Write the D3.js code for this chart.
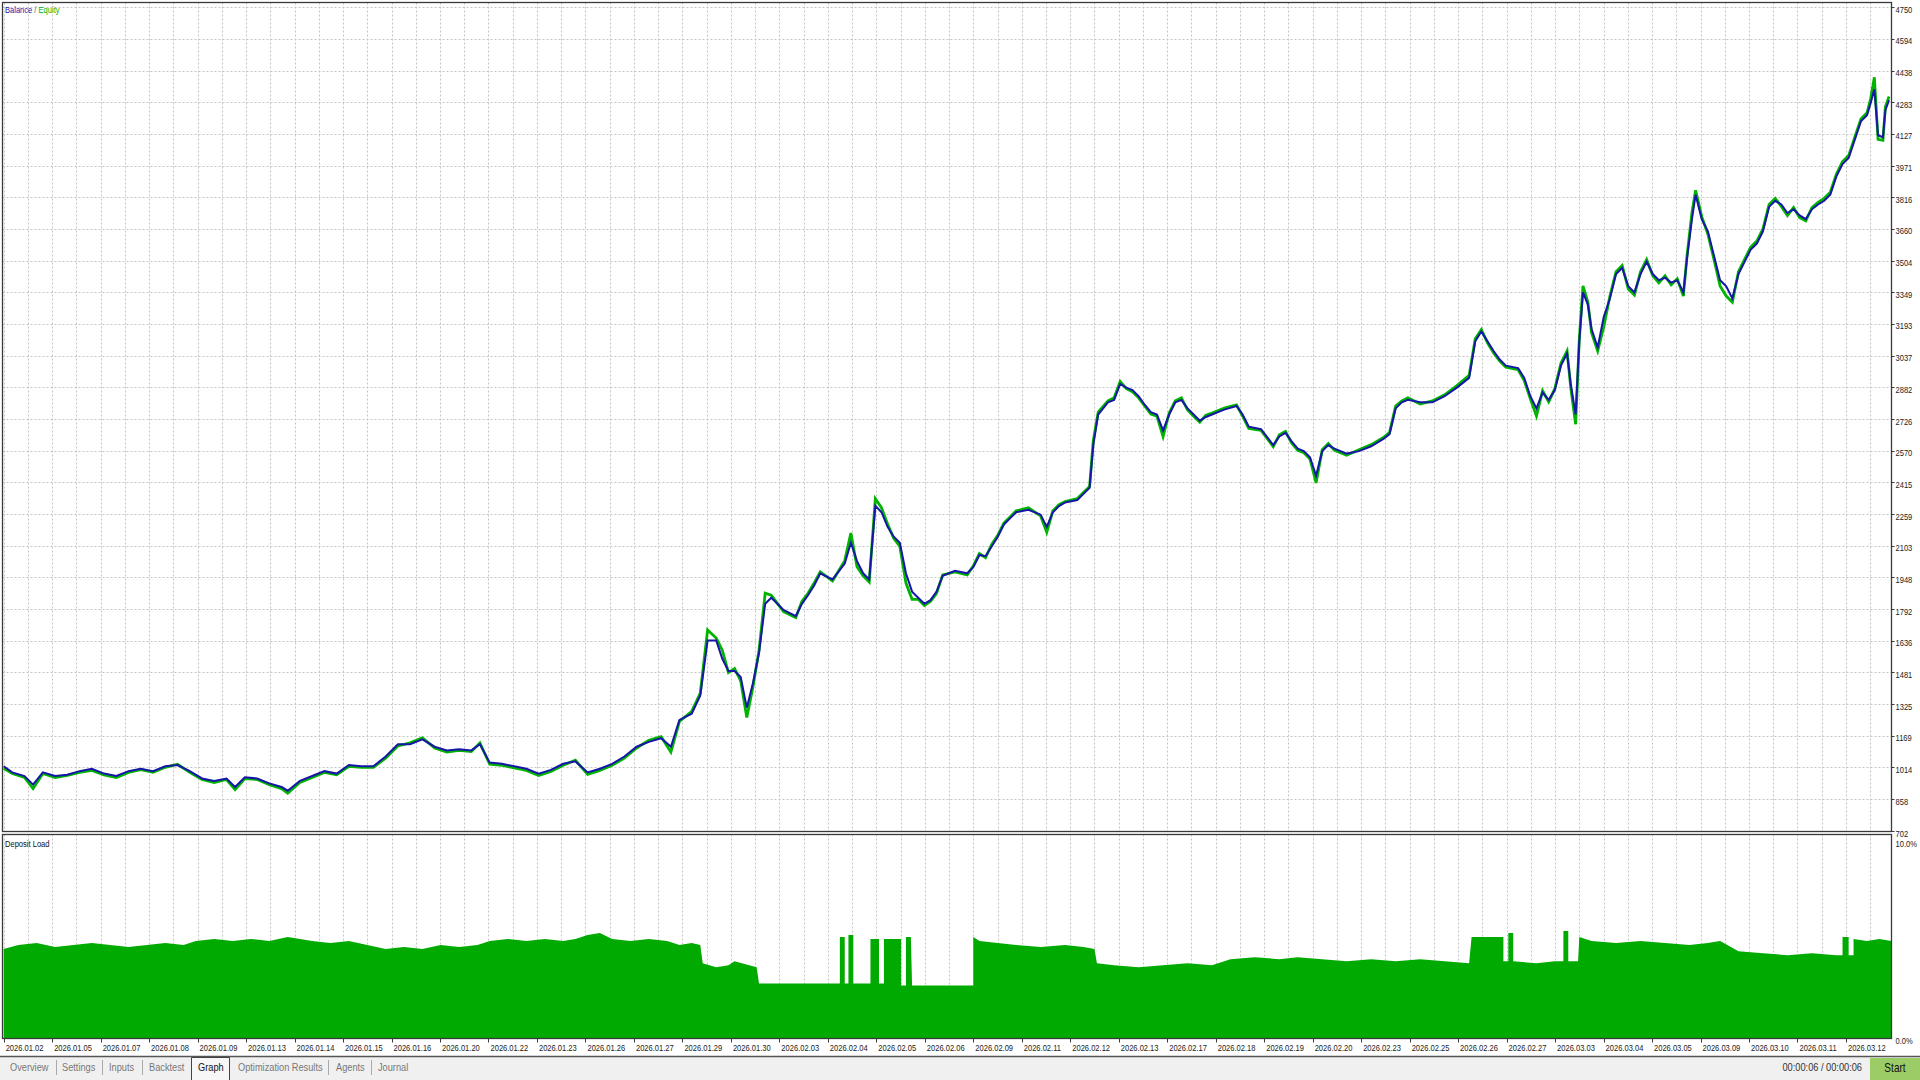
<!DOCTYPE html>
<html><head><meta charset="utf-8">
<script src="https://cdn.jsdelivr.net/npm/d3@7"></script>
<style>html,body{margin:0;padding:0;background:#fff;overflow:hidden}</style>
</head><body><svg id="c" width="1920" height="1080"></svg>
<script>
// ---- data ----
const yTickLabels = ["702","858","1014","1169","1325","1481","1636","1792","1948","2103","2259","2415","2570","2726","2882","3037","3193","3349","3504","3660","3816","3971","4127","4283","4438","4594","4750"];
const dateLabels = ["2026.01.02","2026.01.05","2026.01.07","2026.01.08","2026.01.09","2026.01.13","2026.01.14","2026.01.15","2026.01.16","2026.01.20","2026.01.22","2026.01.23","2026.01.26","2026.01.27","2026.01.29","2026.01.30","2026.02.03","2026.02.04","2026.02.05","2026.02.06","2026.02.09","2026.02.11","2026.02.12","2026.02.13","2026.02.17","2026.02.18","2026.02.19","2026.02.20","2026.02.23","2026.02.25","2026.02.26","2026.02.27","2026.03.03","2026.03.04","2026.03.05","2026.03.09","2026.03.10","2026.03.11","2026.03.12"];
const depositTicks = ["10.0%","0.0%"];
const tabs = ["Overview","Settings","Inputs","Backtest","Graph","Optimization Results","Agents","Journal"];
// [deal index, value]
const balance = [[3,1020],[10,990],[20,972],[27,930],[35,990],[45,972],[55,978],[65,996],[75,1008],[85,984],[95,972],[105,996],[115,1008],[125,996],[135,1020],[145,1026],[155,996],[165,960],[175,948],[185,960],[192,918],[200,966],[210,960],[220,936],[230,918],[235,900],[245,948],[255,972],[265,996],[275,984],[285,1026],[295,1020],[305,1020],[315,1068],[325,1128],[335,1128],[345,1152],[355,1116],[365,1098],[375,1104],[385,1098],[392,1128],[400,1038],[410,1032],[420,1020],[430,1008],[440,984],[450,1002],[460,1032],[470,1044],[480,990],[490,1008],[500,1032],[510,1068],[520,1116],[530,1140],[540,1158],[548,1116],[555,1248],[565,1278],[572,1368],[578,1638],[585,1638],[590,1548],[595,1488],[600,1488],[605,1458],[610,1308],[615,1428],[620,1578],[625,1818],[630,1848],[640,1788],[650,1758],[655,1818],[660,1860],[665,1908],[670,1968],[680,1938],[690,2016],[695,2118],[700,2028],[705,1968],[710,1938],[715,2300],[720,2268],[725,2196],[730,2148],[735,2118],[740,1968],[745,1878],[750,1848],[755,1818],[760,1836],[765,1878],[770,1956],[780,1980],[790,1968],[795,1998],[800,2058],[805,2052],[810,2100],[815,2148],[820,2208],[825,2238],[830,2268],[840,2280],[850,2256],[855,2196],[860,2268],[865,2298],[870,2316],[880,2328],[885,2358],[890,2388],[893,2598],[897,2748],[905,2808],[910,2820],[915,2898],[920,2880],[925,2868],[930,2838],[935,2796],[940,2760],[945,2748],[950,2670],[955,2748],[960,2808],[965,2820],[970,2778],[975,2748],[980,2718],[985,2736],[990,2748],[1000,2772],[1010,2790],[1015,2748],[1020,2688],[1030,2676],[1040,2598],[1045,2640],[1050,2658],[1055,2616],[1060,2580],[1065,2568],[1070,2538],[1075,2448],[1080,2568],[1085,2598],[1090,2580],[1100,2556],[1110,2568],[1120,2592],[1130,2628],[1135,2652],[1140,2778],[1145,2808],[1150,2820],[1160,2808],[1170,2808],[1180,2838],[1190,2880],[1200,2928],[1205,3108],[1210,3156],[1215,3108],[1220,3060],[1225,3018],[1230,2988],[1240,2976],[1245,2928],[1250,2838],[1255,2778],[1260,2856],[1265,2820],[1270,2868],[1275,2988],[1280,3048],[1283,2898],[1287,2748],[1290,3108],[1293,3348],[1297,3288],[1300,3168],[1305,3078],[1310,3228],[1315,3318],[1320,3438],[1325,3468],[1330,3378],[1335,3348],[1340,3438],[1345,3498],[1350,3438],[1355,3408],[1360,3420],[1365,3396],[1370,3408],[1375,3348],[1378,3516],[1382,3708],[1385,3828],[1390,3708],[1395,3648],[1400,3528],[1405,3408],[1410,3378],[1415,3318],[1420,3438],[1425,3498],[1430,3558],[1435,3588],[1440,3648],[1445,3768],[1450,3798],[1455,3780],[1460,3738],[1465,3756],[1470,3726],[1475,3708],[1480,3756],[1485,3780],[1490,3798],[1495,3828],[1500,3918],[1505,3978],[1510,4008],[1515,4098],[1520,4188],[1525,4218],[1528,4278],[1531,4346],[1534,4120],[1538,4110],[1540,4243],[1543,4292]];
const equity = [[3,1010],[10,985],[20,965],[27,910],[35,985],[45,965],[55,975],[65,990],[75,1000],[85,978],[95,965],[105,990],[115,1004],[125,990],[135,1015],[145,1030],[155,990],[165,955],[175,940],[185,955],[192,905],[200,960],[210,955],[220,930],[230,910],[235,888],[245,940],[255,965],[265,990],[275,978],[285,1020],[295,1015],[305,1015],[315,1060],[325,1120],[335,1135],[345,1160],[355,1110],[365,1090],[375,1098],[385,1092],[392,1135],[400,1030],[410,1025],[420,1012],[430,1000],[440,975],[450,995],[460,1025],[470,1050],[480,980],[490,1000],[500,1025],[510,1060],[520,1110],[530,1148],[540,1165],[548,1090],[555,1240],[565,1290],[572,1380],[578,1690],[585,1650],[590,1590],[595,1480],[600,1500],[605,1440],[610,1260],[615,1410],[620,1590],[625,1870],[630,1860],[640,1780],[650,1750],[655,1830],[660,1870],[665,1920],[670,1975],[680,1930],[690,2030],[695,2166],[700,2000],[705,1955],[710,1925],[715,2335],[720,2290],[725,2210],[730,2140],[735,2100],[740,1920],[745,1840],[750,1840],[755,1810],[760,1830],[765,1870],[770,1960],[780,1975],[790,1960],[795,2005],[800,2065],[805,2045],[810,2110],[815,2155],[820,2215],[825,2245],[830,2275],[840,2290],[850,2250],[855,2170],[860,2275],[865,2305],[870,2320],[880,2335],[885,2365],[890,2395],[893,2620],[897,2760],[905,2815],[910,2830],[915,2910],[920,2875],[925,2860],[930,2830],[935,2790],[940,2750],[945,2740],[950,2640],[955,2755],[960,2815],[965,2830],[970,2770],[975,2740],[980,2710],[985,2745],[990,2755],[1000,2780],[1010,2795],[1015,2740],[1020,2680],[1030,2670],[1040,2590],[1045,2648],[1050,2665],[1055,2608],[1060,2572],[1065,2560],[1070,2530],[1075,2412],[1080,2575],[1085,2605],[1090,2572],[1100,2548],[1110,2575],[1120,2600],[1130,2635],[1135,2660],[1140,2790],[1145,2815],[1150,2830],[1160,2800],[1170,2815],[1180,2845],[1190,2890],[1200,2940],[1205,3120],[1210,3165],[1215,3100],[1220,3050],[1225,3010],[1230,2980],[1240,2968],[1245,2915],[1250,2825],[1255,2740],[1260,2865],[1265,2810],[1270,2875],[1275,3000],[1280,3060],[1283,2880],[1287,2700],[1290,3120],[1293,3380],[1297,3300],[1300,3150],[1305,3060],[1310,3180],[1315,3330],[1320,3450],[1325,3480],[1330,3365],[1335,3335],[1340,3450],[1345,3510],[1350,3430],[1355,3395],[1360,3430],[1365,3385],[1370,3415],[1375,3330],[1378,3530],[1382,3740],[1385,3850],[1390,3720],[1395,3635],[1400,3510],[1405,3380],[1410,3330],[1415,3300],[1420,3450],[1425,3510],[1430,3570],[1435,3600],[1440,3660],[1445,3780],[1450,3810],[1455,3770],[1460,3725],[1465,3765],[1470,3715],[1475,3700],[1480,3765],[1485,3790],[1490,3810],[1495,3840],[1500,3930],[1505,3990],[1510,4020],[1515,4110],[1520,4200],[1525,4230],[1528,4300],[1531,4405],[1534,4100],[1538,4095],[1540,4260],[1543,4310]];
// [deal index, deposit load %]
const depositLoad = [[3,4.4],[15,4.6],[30,4.7],[45,4.5],[60,4.6],[75,4.7],[90,4.6],[105,4.5],[120,4.6],[135,4.7],[150,4.6],[160,4.8],[175,4.9],[190,4.8],[205,4.9],[220,4.8],[235,5.0],[245,4.9],[255,4.8],[270,4.7],[285,4.8],[300,4.6],[315,4.4],[330,4.5],[345,4.4],[360,4.6],[375,4.5],[390,4.6],[400,4.8],[415,4.9],[430,4.8],[445,4.9],[460,4.8],[470,4.9],[480,5.1],[490,5.2],[500,4.9],[515,4.8],[530,4.9],[545,4.8],[555,4.6],[565,4.7],[572,4.6],[574,3.7],[585,3.5],[595,3.6],[600,3.8],[612,3.6],[618,3.5],[620,2.7],[686,2.7],[686,5.0],[690,5.0],[690,2.7],[693,2.7],[693,5.1],[697,5.1],[697,2.7],[711,2.7],[711,4.9],[718,4.9],[718,2.7],[722,2.7],[722,4.9],[736,4.9],[736,2.6],[740,2.6],[740,5.0],[744,5.0],[745,2.6],[795,2.6],[795,5.0],[800,4.8],[815,4.7],[830,4.6],[850,4.5],[870,4.6],[885,4.5],[894,4.4],[896,3.7],[910,3.6],[930,3.5],[950,3.6],[970,3.7],[990,3.6],[1005,3.9],[1025,4.0],[1045,3.9],[1060,4.0],[1080,3.9],[1100,3.8],[1120,3.9],[1140,3.8],[1160,3.9],[1180,3.8],[1200,3.7],[1202,5.0],[1228,5.0],[1228,3.8],[1232,3.8],[1232,5.2],[1236,5.2],[1236,3.8],[1255,3.7],[1270,3.8],[1277,3.8],[1277,5.3],[1281,5.3],[1281,3.8],[1289,3.8],[1290,5.0],[1300,4.8],[1320,4.7],[1340,4.8],[1360,4.7],[1380,4.6],[1395,4.7],[1405,4.8],[1420,4.3],[1440,4.2],[1460,4.1],[1480,4.2],[1500,4.1],[1505,4.1],[1505,5.0],[1510,5.0],[1510,4.1],[1514,4.1],[1514,4.9],[1525,4.8],[1535,4.9],[1545,4.8]];

// ---- layout ----
const W = 1920, H = 1080;
const L = 2.5, R = 1891.5;
const mainTop = 2.5, mainBot = 831.5;
const depTop = 834.5, depBot = 1038.5;
const svg = d3.select("#c");
const FONT = "'Liberation Sans',Arial,sans-serif";
const SX = 0.84;
const GRID = "#c4c4c4";
const FRAME = "#3a3a3a";

const x = d3.scaleLinear().domain([0, 1545]).range([0, R]);
const y = d3.scaleLinear().domain([702, 4750]).range([831, 7]);
const yd = d3.scaleLinear().domain([0, 10]).range([1038, 836]);
const labelPos = d3.scaleLinear().domain([0, 1]).range([x(3), x(3 + 39.6)]);

function txt(g, tx, ty, s, size, fill, anchor) {
  return g.append("text").attr("transform", `translate(${tx},${ty}) scale(${SX},1)`)
    .attr("font-family", FONT).attr("font-size", size).attr("fill", fill)
    .attr("text-anchor", anchor || "start").text(s);
}

svg.append("rect").attr("width", W).attr("height", H).attr("fill", "#fff");

const defs = svg.append("defs");
defs.append("clipPath").attr("id", "cm").append("rect").attr("x", L).attr("y", mainTop).attr("width", R - L).attr("height", mainBot - mainTop);
defs.append("clipPath").attr("id", "cd").append("rect").attr("x", L).attr("y", depTop).attr("width", R - L).attr("height", depBot - depTop);

const vgrid = d3.range(0, 80).map(k => 3 + k * 19.8).filter(d => d <= 1545);
const gm = svg.append("g").attr("clip-path", "url(#cm)");
gm.selectAll("line.v").data(vgrid).join("line")
  .attr("x1", d => Math.round(x(d)) + 0.5).attr("x2", d => Math.round(x(d)) + 0.5)
  .attr("y1", mainTop).attr("y2", mainBot)
  .attr("stroke", GRID).attr("stroke-dasharray", "2,2");
gm.selectAll("line.h").data(yTickLabels).join("line")
  .attr("x1", L).attr("x2", R)
  .attr("y1", d => Math.round(y(+d)) + 0.5).attr("y2", d => Math.round(y(+d)) + 0.5)
  .attr("stroke", GRID).attr("stroke-dasharray", "2,2");

const gd = svg.append("g").attr("clip-path", "url(#cd)");
gd.selectAll("line.v").data(vgrid).join("line")
  .attr("x1", d => Math.round(x(d)) + 0.5).attr("x2", d => Math.round(x(d)) + 0.5)
  .attr("y1", depTop).attr("y2", depBot)
  .attr("stroke", GRID).attr("stroke-dasharray", "2,2");

gd.append("path").datum(depositLoad)
  .attr("d", d3.area().x(d => x(d[0])).y0(yd(0)).y1(d => yd(d[1])))
  .attr("fill", "#00aa00");

const lineGen = d3.line().x(d => x(d[0])).y(d => y(d[1]));
gm.append("path").datum(equity).attr("d", lineGen)
  .attr("fill", "none").attr("stroke", "#00b400").attr("stroke-width", 2.8);
gm.append("path").datum(balance).attr("d", lineGen)
  .attr("fill", "none").attr("stroke", "#1616a8").attr("stroke-width", 2);

svg.append("rect").attr("x", L).attr("y", mainTop).attr("width", R - L).attr("height", mainBot - mainTop)
  .attr("fill", "none").attr("stroke", FRAME).attr("stroke-width", 1.3);
svg.append("rect").attr("x", L).attr("y", depTop).attr("width", R - L).attr("height", depBot - depTop)
  .attr("fill", "none").attr("stroke", FRAME).attr("stroke-width", 1.3);

const ya = svg.append("g");
ya.selectAll("line").data(yTickLabels).join("line")
  .attr("x1", R).attr("x2", R + 3)
  .attr("y1", d => Math.round(y(+d)) + 0.5).attr("y2", d => Math.round(y(+d)) + 0.5)
  .attr("stroke", FRAME);
yTickLabels.forEach(d => txt(ya, R + 4, y(+d) + 5.5, d, 9, "#222"));

const da = svg.append("g");
depositTicks.forEach((d, i) => txt(da, R + 4, i === 0 ? yd(10) + 11 : yd(0) + 6, d, 9, "#222"));

const xa = svg.append("g");
xa.selectAll("line").data(dateLabels).join("line")
  .attr("x1", (d, i) => Math.round(labelPos(i)) + 0.5).attr("x2", (d, i) => Math.round(labelPos(i)) + 0.5)
  .attr("y1", depBot).attr("y2", depBot + 4).attr("stroke", FRAME);
dateLabels.forEach((d, i) => txt(xa, labelPos(i) + 2, 1051, d, 9, "#222"));

const t1 = svg.append("text").attr("transform", `translate(5,13) scale(${SX},1)`).attr("font-family", FONT).attr("font-size", 9);
t1.append("tspan").attr("fill", "#1616a8").text("Balance");
t1.append("tspan").attr("fill", "#666").text(" / ");
t1.append("tspan").attr("fill", "#00b400").text("Equity");
txt(svg, 5, 847, "Deposit Load", 9, "#111");

svg.append("rect").attr("x", 0).attr("y", 1057).attr("width", W).attr("height", 23).attr("fill", "#f0f0f0");
svg.append("line").attr("x1", 0).attr("x2", W).attr("y1", 1056.5).attr("y2", 1056.5).attr("stroke", "#555").attr("stroke-width", 1.5);
const tabX = [10, 62, 109, 149, 198, 238, 336, 378];
const sepX = [56, 102, 142, 328, 371];
const tb = svg.append("g");
tb.append("path").attr("d", "M191.5,1080V1057.5H229.5V1080").attr("fill", "#f7f7f7").attr("stroke", "#444");
tabs.forEach((d, i) => txt(tb, tabX[i], 1071, d, 11, d === "Graph" ? "#111" : "#777"));
tb.selectAll("line").data(sepX).join("line")
  .attr("x1", d => d + 0.5).attr("x2", d => d + 0.5).attr("y1", 1060).attr("y2", 1075).attr("stroke", "#aaa");
txt(svg, 1862, 1071, "00:00:06 / 00:00:06", 11, "#333", "end");
svg.append("rect").attr("x", 1870).attr("y", 1058).attr("width", 50).attr("height", 22).attr("fill", "#9ccc65");
txt(svg, 1895, 1072, "Start", 12, "#111", "middle");
</script></body></html>
